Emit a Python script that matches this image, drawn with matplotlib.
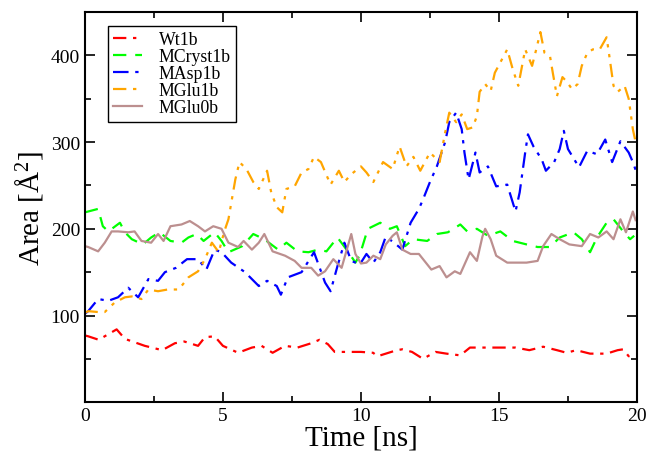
import matplotlib
matplotlib.use("Agg")
import matplotlib.pyplot as plt
from matplotlib.ticker import MultipleLocator

wt_t = [0, 0.12, 0.5, 1.15, 1.45, 2.17, 2.8, 3.26, 3.6, 4.1, 4.35, 4.7, 5.0, 5.55, 6.05, 6.4, 6.8, 7.25, 7.7, 8.2, 8.5, 8.8, 9.05, 9.55, 10.0, 10.44, 10.6, 10.9, 11.3, 11.5, 11.85, 12.25, 12.7, 13.1, 13.6, 13.95, 14.4, 14.8, 15.3, 15.6, 16.1, 16.6, 17.1, 17.45, 17.8, 18.3, 18.9, 19.3, 19.5, 19.7, 19.9]
wt_v = [77, 76, 72, 84, 73, 65, 60, 68, 70, 65, 75, 76, 65, 57, 63, 65, 57, 65, 63, 68, 72, 67, 58, 58, 58, 57, 53, 56, 60, 61, 58, 50, 58, 56, 54, 63, 63, 63, 63, 63, 60, 64, 60, 57, 60, 56, 56, 60, 61, 53, 55]

cr_t = [0, 0.48, 0.65, 0.85, 1.27, 1.45, 1.7, 2.1, 2.4, 2.7, 3.1, 3.5, 3.75, 4.05, 4.3, 4.7, 4.95, 5.2, 5.7, 6.1, 6.5, 7.0, 7.3, 7.7, 8.1, 8.45, 8.75, 9.15, 9.55, 9.8, 9.96, 10.25, 10.7, 11.05, 11.3, 11.6, 11.9, 12.4, 12.75, 13.15, 13.6, 13.85, 14.2, 14.6, 15.05, 15.5, 16.0, 16.4, 16.85, 17.2, 17.7, 18.0, 18.3, 18.55, 18.9, 19.15, 19.5, 19.75, 19.9]
cr_v = [219, 223, 203, 197, 207, 196, 188, 182, 190, 196, 186, 184, 190, 194, 186, 196, 186, 173, 180, 194, 188, 176, 184, 174, 173, 176, 174, 190, 173, 161, 170, 200, 207, 200, 203, 180, 188, 186, 194, 196, 205, 197, 200, 192, 197, 186, 182, 179, 179, 190, 196, 188, 173, 190, 207, 211, 197, 188, 192]

asp_t = [0, 0.12, 0.48, 0.85, 1.2, 1.57, 1.93, 2.3, 2.65, 2.9, 3.3, 3.7, 4.1, 4.4, 4.7, 4.95, 5.3, 5.8, 6.3, 6.6, 6.95, 7.1, 7.35, 7.85, 8.3, 8.7, 8.9, 9.15, 9.4, 9.65, 9.96, 10.2, 10.45, 10.7, 10.9, 11.2, 11.5, 11.8, 12.1, 12.25, 12.5, 12.75, 13.05, 13.2, 13.45, 13.65, 13.75, 13.9, 14.15, 14.3, 14.6, 14.9, 15.3, 15.6, 15.75, 15.95, 16.05, 16.25, 16.55, 16.7, 17.0, 17.2, 17.35, 17.5, 17.9, 18.2, 18.55, 18.85, 19.1, 19.4, 19.7, 19.85, 19.95]
asp_v = [102, 105, 119, 117, 121, 132, 121, 142, 140, 150, 155, 165, 165, 153, 176, 173, 161, 150, 134, 140, 134, 124, 144, 150, 173, 138, 128, 157, 184, 163, 159, 171, 161, 173, 191, 184, 176, 207, 223, 234, 254, 272, 300, 323, 334, 315, 288, 257, 288, 265, 272, 249, 251, 220, 242, 288, 309, 295, 280, 267, 277, 292, 313, 292, 271, 290, 286, 303, 277, 301, 288, 277, 268]

g1_t = [0, 0.12, 0.48, 0.72, 1.08, 1.45, 1.7, 2.05, 2.3, 2.65, 3.0, 3.4, 3.75, 4.1, 4.35, 4.6, 4.85, 5.05, 5.2, 5.45, 5.6, 5.85, 6.1, 6.3, 6.6, 6.75, 6.95, 7.15, 7.3, 7.6, 7.85, 8.1, 8.3, 8.55, 8.9, 9.2, 9.4, 9.65, 10.0, 10.2, 10.45, 10.8, 11.15, 11.4, 11.65, 11.9, 12.15, 12.5, 12.85, 13.05, 13.2, 13.45, 13.65, 13.85, 14.05, 14.2, 14.3, 14.5, 14.7, 14.85, 15.05, 15.3, 15.5, 15.7, 15.95, 16.2, 16.35, 16.5, 16.65, 16.85, 16.95, 17.1, 17.3, 17.45, 17.65, 17.85, 18.0, 18.2, 18.4, 18.65, 18.9, 19.0, 19.15, 19.3, 19.55, 19.7, 19.85, 19.95]
g1_v = [103, 105, 104, 104, 115, 121, 122, 119, 130, 128, 130, 130, 144, 151, 165, 184, 173, 197, 211, 257, 277, 269, 254, 246, 267, 242, 225, 219, 246, 249, 265, 269, 283, 277, 251, 267, 254, 263, 272, 265, 254, 277, 269, 295, 272, 283, 267, 288, 277, 311, 334, 323, 332, 315, 317, 330, 358, 367, 359, 380, 392, 407, 384, 365, 407, 388, 407, 427, 403, 399, 380, 353, 375, 370, 361, 367, 388, 403, 407, 407, 421, 399, 365, 358, 365, 350, 315, 300]

g0_t = [0, 0.12, 0.48, 0.72, 0.97, 1.2, 1.57, 1.8, 2.05, 2.4, 2.65, 2.85, 3.1, 3.5, 3.8, 4.1, 4.35, 4.65, 4.95, 5.2, 5.55, 5.75, 6.05, 6.3, 6.5, 6.8, 7.25, 7.6, 7.85, 8.2, 8.45, 8.7, 9.0, 9.3, 9.65, 9.8, 10.0, 10.2, 10.45, 10.7, 10.9, 11.15, 11.3, 11.5, 11.8, 12.1, 12.4, 12.55, 12.85, 13.1, 13.4, 13.6, 13.95, 14.2, 14.4, 14.5, 14.7, 14.9, 15.3, 15.65, 16.0, 16.4, 16.6, 16.9, 17.2, 17.55, 18.0, 18.3, 18.6, 18.9, 19.15, 19.4, 19.6, 19.85, 19.95]
g0_v = [180, 179, 174, 184, 197, 197, 196, 197, 186, 184, 194, 186, 203, 205, 209, 203, 197, 203, 200, 184, 179, 186, 176, 184, 194, 174, 169, 163, 155, 155, 146, 151, 165, 155, 194, 171, 160, 161, 169, 165, 182, 192, 196, 176, 171, 171, 159, 153, 157, 144, 151, 148, 173, 163, 191, 200, 188, 169, 161, 161, 161, 163, 180, 194, 188, 182, 180, 194, 190, 197, 188, 211, 196, 220, 210]

series = [
    ("Wt1b", wt_t, wt_v, "#ff0000", (0, (6, 3, 1.5, 3))),
    ("MCryst1b", cr_t, cr_v, "#00ff00", (0, (6, 4))),
    ("MAsp1b", asp_t, asp_v, "#0000ff", (0, (7, 3, 1.5, 3))),
    ("MGlu1b", g1_t, g1_v, "#ffa500", (0, (6, 3, 1.5, 3, 1.5, 3))),
    ("MGlu0b", g0_t, g0_v, "#bc8f8f", "-"),
]

plt.rcParams['font.family'] = ['Liberation Serif', 'DejaVu Serif']
fig = plt.figure(figsize=(6.48, 4.52), dpi=100)
ax = fig.add_axes([0.131, 0.108, 0.852, 0.863])
for name, t, v, c, ls in series:
    ax.plot(t, v, color=c, linestyle=ls, linewidth=1.6, label=name)

ax.set_xlim(0, 20)
ax.set_ylim(0, 450)
ax.xaxis.set_major_locator(MultipleLocator(5))
ax.xaxis.set_minor_locator(MultipleLocator(2.5))
ax.yaxis.set_major_locator(MultipleLocator(100))
ax.yaxis.set_minor_locator(MultipleLocator(50))
ax.set_yticks([100, 200, 300, 400])
ax.tick_params(which='both', direction='in', top=True, right=True, width=1.2, labelsize=14)
ax.tick_params(which='major', length=7)
ax.tick_params(which='minor', length=4)
for s in ax.spines.values():
    s.set_linewidth(1.5)
ax.set_xlabel("Time [ns]", fontsize=21, labelpad=0)
ax.set_ylabel(r"Area [$\mathregular{\AA^2}$]", fontsize=21, labelpad=4)

leg = ax.legend(loc='upper left', bbox_to_anchor=(0.042, 0.964), borderaxespad=0,
                fontsize=12.8, frameon=True, fancybox=False, edgecolor='black', framealpha=1,
                handlelength=1.6, borderpad=0.3, labelspacing=0.0, handletextpad=0.95)
leg.get_frame().set_linewidth(1.0)
fig.savefig("out.png", dpi=100)
